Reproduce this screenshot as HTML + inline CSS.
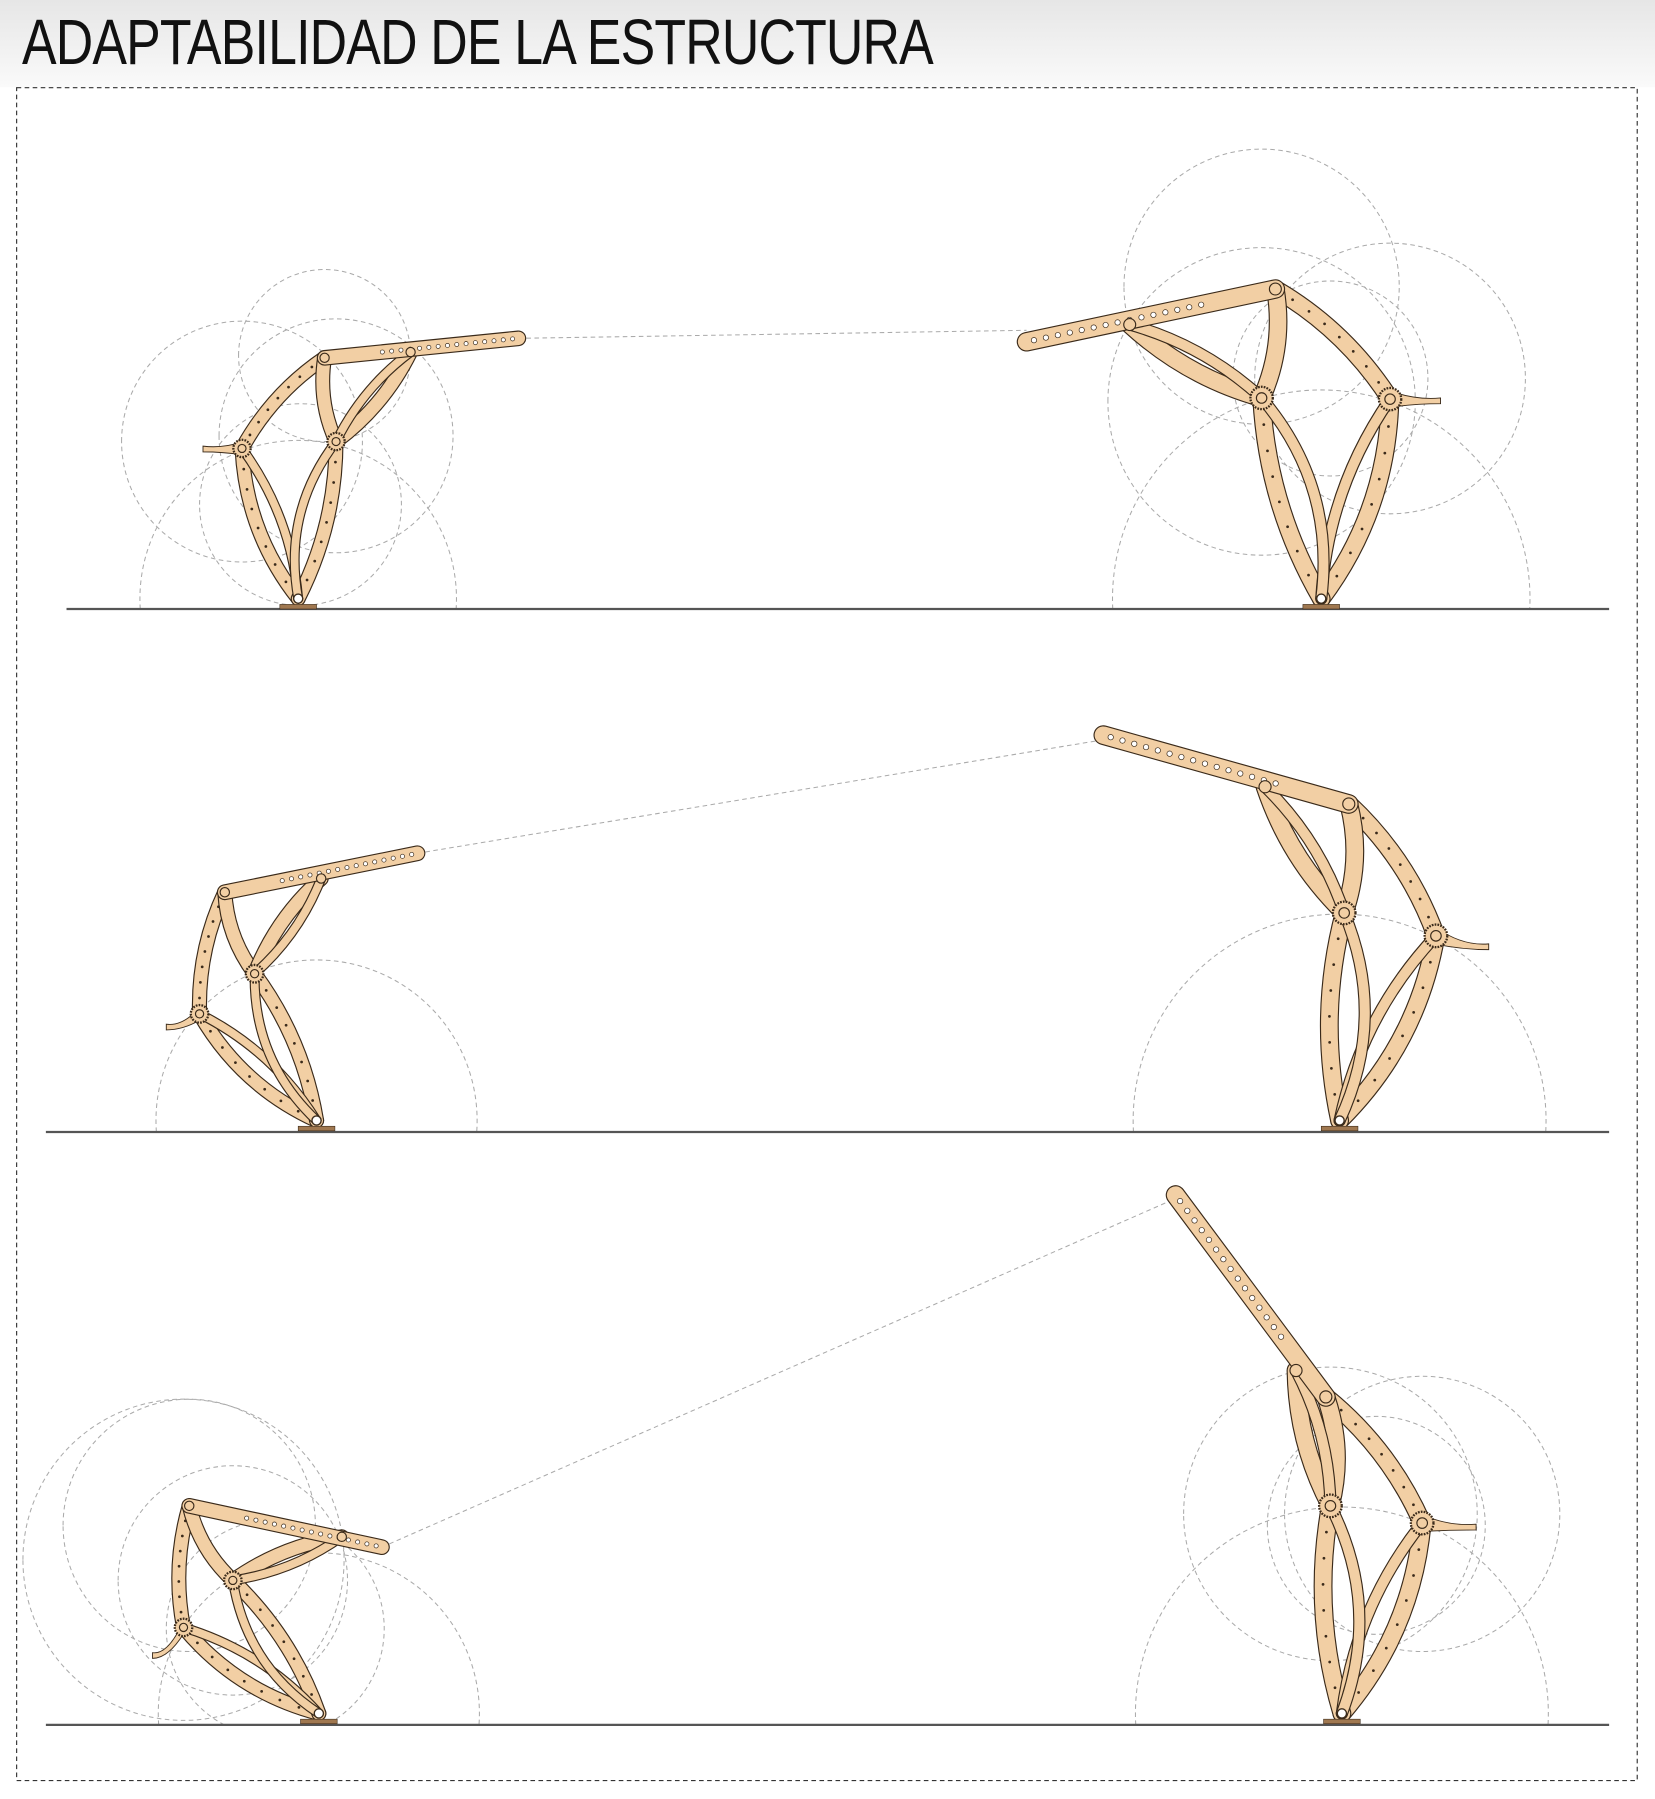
<!DOCTYPE html>
<html><head><meta charset="utf-8">
<style>
html,body{margin:0;padding:0;background:#fff;width:1655px;height:1799px;overflow:hidden;}
#wrap{position:relative;width:1655px;height:1799px;overflow:hidden;background:#fff;}
#title{position:absolute;left:22px;top:4px;font-family:"Liberation Sans Narrow","Liberation Sans",sans-serif;font-size:64px;line-height:76px;color:#111;letter-spacing:-1px;transform:scaleX(0.81);transform-origin:left top;white-space:nowrap;}
svg{position:absolute;left:0;top:0;display:block;}
</style></head><body>
<div id="wrap">
<svg id="sv" width="1655" height="1799" viewBox="0 0 1443 1568.6" preserveAspectRatio="none">
<defs><linearGradient id="tg" x1="0" y1="0" x2="0" y2="1"><stop offset="0" stop-color="#e6e6e6"/><stop offset="1" stop-color="#fafafa"/></linearGradient></defs>
<rect x="0" y="0" width="1443" height="76" fill="url(#tg)"/>
<rect x="14.5" y="76.5" width="1413" height="1476" fill="#fff" stroke="#333" stroke-width="1" stroke-dasharray="4,3"/>
<g id="g"></g>
</svg>
<div id="title">ADAPTABILIDAD DE LA ESTRUCTURA</div>
</div>
<script>
const grounds=[[58,1403,531],[40,1403,987],[40,1403,1504]];
const links=[[452,295,895,288],[364,744,962,645],[333,1349,1025,1045]];
const structs=[
 {b:[260,522],g1:[211,391],g2:[293,385],t:[283,312],d:[358,307],a:[452,295],k:[177,392],s:1},
 {b:[1152,522],g1:[1212,348],g2:[1100,347],t:[1112,252],d:[985,283],a:[895,298],k:[1256,350],s:-1},
 {b:[276,977],g1:[174,884],g2:[222,849],t:[196,778],d:[280,766],a:[364,744],k:[145,896],s:1},
 {b:[1168,977],g1:[1252,816],g2:[1172,796],t:[1176,701],d:[1103,686],a:[962,641],k:[1298,826],s:-1},
 {b:[278,1494],g1:[160,1419],g2:[203,1378],t:[165,1313],d:[298,1340],a:[333,1349],k:[133,1444],s:1},
 {b:[1170,1494],g1:[1240,1328],g2:[1160,1313],t:[1156,1218],d:[1130,1195],a:[1025,1042],k:[1287,1332],s:-1}
];
const circles=[
 [260,522,138],[211,385,105],[283,310,75],[293,380,102],[262,440,88],
 [1152,522,182],[1100,250,120],[1212,330,118],[1100,350,134],[1160,330,85],
 [276,977,140],[174,880,105],[222,850,100],[196,760,85],[240,870,80],
 [1168,977,180],[1172,780,130],[1252,800,138],[1176,690,80],[1200,790,95],
 [278,1494,140],[160,1360,140],[203,1378,100],[165,1330,110],[240,1420,95],
 [1170,1494,180],[1160,1320,128],[1240,1320,120],[1156,1240,65],[1200,1330,95]
];
const NS='http://www.w3.org/2000/svg',G=document.getElementById('g');
function mk(t,a,p){const e=document.createElementNS(NS,t);for(const k in a)e.setAttribute(k,a[k]);(p||G).appendChild(e);return e;}
const cg=mk('g',{});


circles.forEach(c=>{const yg=c[1]>900?(c[1]>1300?1504:987):531;
 const cx=c[0],cy=c[1],r=c[2];let d;
 if(cy+r<=yg){d=`M${cx-r},${cy} A${r},${r} 0 1 1 ${cx+r},${cy} A${r},${r} 0 1 1 ${cx-r},${cy}Z`;}
 else{const h=yg-cy;const hw=Math.sqrt(Math.max(0,r*r-h*h));const large=h>0?1:0;
  d=`M${cx-hw},${yg} A${r},${r} 0 ${large} 1 ${cx+hw},${yg}`;}
 const e=mk('path',{d:d,fill:'none',stroke:'#aaa','stroke-width':0.9,'stroke-dasharray':'4,3'},cg);
 
 });
links.forEach(l=>{const e=mk('line',{x1:l[0],y1:l[1],x2:l[2],y2:l[3],stroke:'#aaa','stroke-width':0.9,'stroke-dasharray':'4,3'});
 
 });
grounds.forEach(g=>{const e=mk('line',{x1:g[0],y1:g[2],x2:g[1],y2:g[2],stroke:'#555','stroke-width':2});
 
 });
const TAN='#f2cfa4',DK='#3a2a1a';
function curve(p,q,cen,k){const mx=(p[0]+q[0])/2,my=(p[1]+q[1])/2;let dx=q[0]-p[0],dy=q[1]-p[1];const L=Math.hypot(dx,dy);let nx=-dy/L,ny=dx/L;
 if((mx-cen[0])*nx+(my-cen[1])*ny<0){nx=-nx;ny=-ny;}return {d:`M${p[0]},${p[1]} Q${mx+nx*L*k},${my+ny*L*k} ${q[0]},${q[1]}`,c:[mx+nx*L*k*0.5,my+ny*L*k*0.5]};}
function limb(grp,d,w){mk('path',{d:d,fill:'none',stroke:DK,'stroke-width':w+2,'stroke-linecap':'round'},grp);
 mk('path',{d:d,fill:'none',stroke:TAN,'stroke-width':w,'stroke-linecap':'round'},grp);}
structs.forEach(S=>{const grp=mk('g',{});
 
 
 const cen=[(S.b[0]+S.g1[0]+S.g2[0]+S.t[0])/4,(S.b[1]+S.g1[1]+S.g2[1]+S.t[1])/4];
 const sc=Math.hypot(S.b[0]-S.t[0],S.b[1]-S.t[1])/210;const w=11*sc;
 const parts=[curve(S.b,S.g1,cen,0.16),curve(S.g1,S.t,cen,0.12),curve(S.t,S.g2,cen,-0.15),curve(S.g2,S.b,cen,0.12),
  curve(S.g2,S.d,cen,0.12),curve(S.d,S.g2,cen,-0.12),curve(S.b,S.g1,cen,-0.14),curve(S.b,S.g2,cen,-0.22)];
 parts.forEach((p,i)=>limb(grp,p.d,i>=5?w*0.6:w));
 limb(grp,`M${S.t[0]},${S.t[1]} L${S.a[0]},${S.a[1]}`,w*1.05);
 const bx=S.k[0],by=S.k[1];mk('path',{d:`M${S.g1[0]},${S.g1[1]-w*0.5} Q${(S.g1[0]+bx)/2},${by-1} ${bx},${by-3} L${bx},${by+2} Q${(S.g1[0]+bx)/2},${by+2} ${S.g1[0]},${S.g1[1]+w*0.5}Z`,fill:TAN,stroke:DK,'stroke-width':0.8},grp);
 const n=15;for(let i=1;i<=n;i++){const f=0.25+0.72*i/n;mk('circle',{cx:S.t[0]+(S.a[0]-S.t[0])*f,cy:S.t[1]+(S.a[1]-S.t[1])*f,r:1.8*sc,fill:'#fff',stroke:DK,'stroke-width':0.6},grp);}
 [0,1,3].forEach(j=>{const p=parts[j];for(let i=1;i<8;i++){const u=i/8;const a=j==0?S.b:j==1?S.g1:S.g2,b=j==0?S.g1:j==1?S.t:S.b;
   const m=p.d.match(/Q([\d.-]+),([\d.-]+)/);const cx=+m[1],cy=+m[2];
   const x=(1-u)*(1-u)*a[0]+2*u*(1-u)*cx+u*u*b[0],y=(1-u)*(1-u)*a[1]+2*u*(1-u)*cy+u*u*b[1];
   mk('circle',{cx:x,cy:y,r:1.2,fill:DK},grp);}});
 [S.g1,S.g2].forEach(g=>{mk('circle',{cx:g[0],cy:g[1],r:7.5*sc,fill:TAN,stroke:DK,'stroke-width':2,'stroke-dasharray':'1.5,1'},grp);
  mk('circle',{cx:g[0],cy:g[1],r:3.5*sc,fill:'none',stroke:DK,'stroke-width':1},grp);});
 [S.t,S.d].forEach(g=>mk('circle',{cx:g[0],cy:g[1],r:4*sc,fill:TAN,stroke:DK,'stroke-width':1},grp));
 mk('rect',{x:S.b[0]-16,y:S.b[1]+5,width:32,height:4,fill:'#a07850',stroke:DK,'stroke-width':0.5},grp);
 mk('circle',{cx:S.b[0],cy:S.b[1],r:4,fill:'#fff',stroke:DK,'stroke-width':1.2},grp);
});
</script>
</body></html>
